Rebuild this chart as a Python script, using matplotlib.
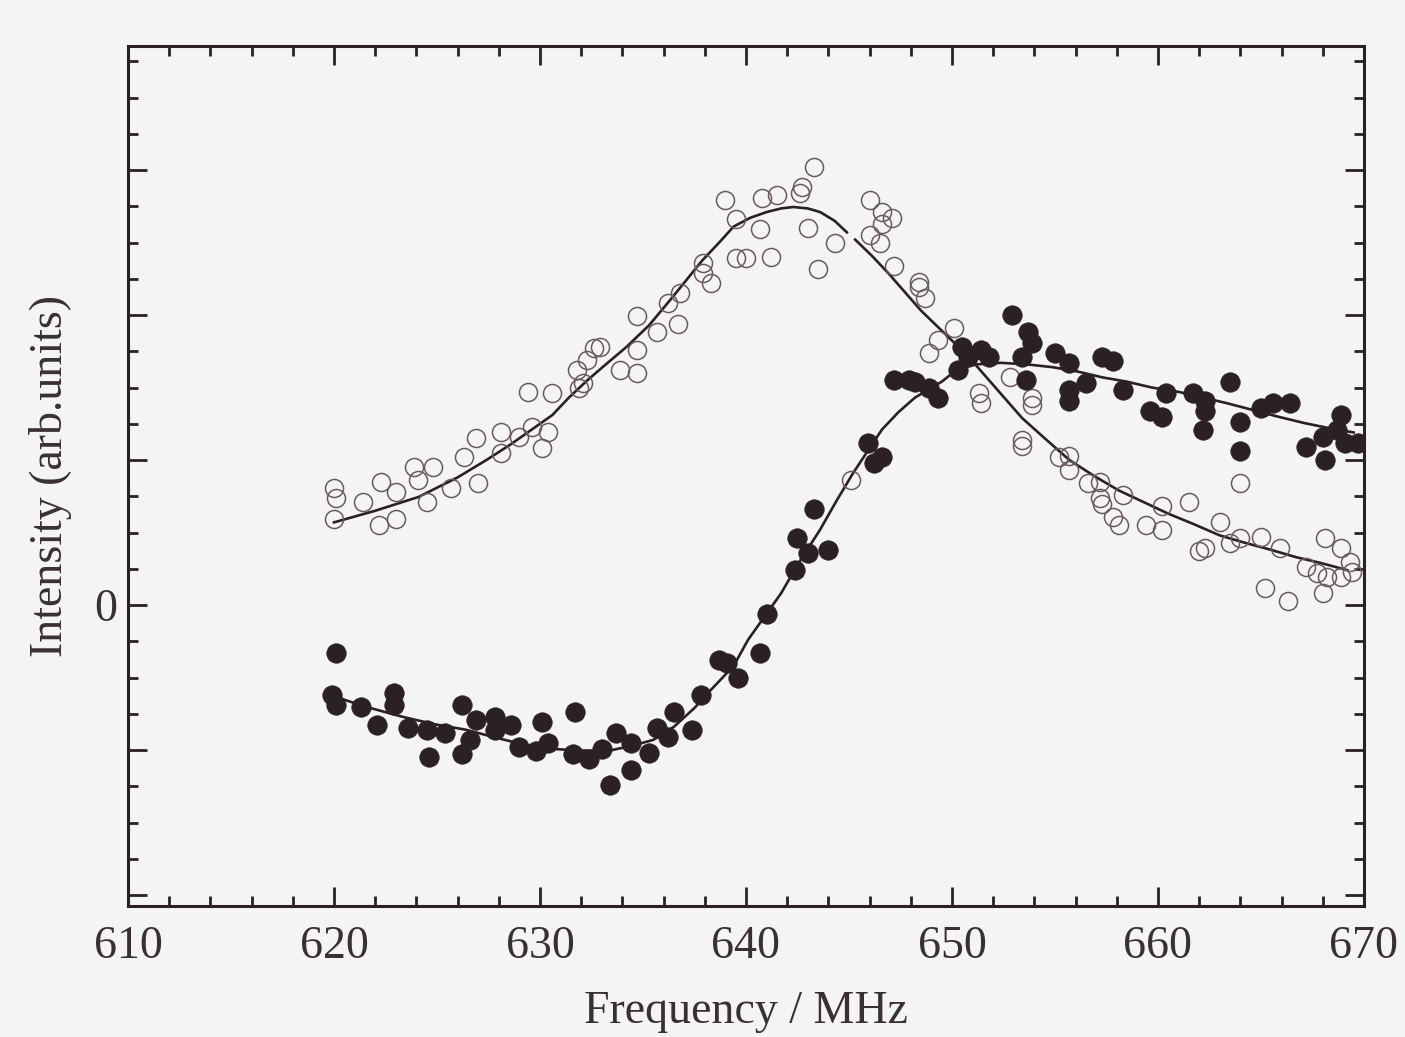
import numpy as np
import matplotlib.pyplot as plt
from matplotlib.ticker import MultipleLocator, FixedLocator

# measured points, open circles
open_freq = [620.0, 620.1, 620.0, 621.4, 622.3, 622.2, 623.0, 623.0, 623.9, 624.1,
             624.5, 624.8, 625.7, 626.3, 626.9, 627.0, 628.1, 628.1, 629.0, 629.4,
             629.6, 630.1, 630.4, 630.6, 631.8, 631.9, 632.1, 632.3, 632.6, 632.9,
             633.9, 634.7, 634.7, 634.7, 635.7, 636.2, 636.7, 636.8, 637.9, 637.9,
             638.3, 639.0, 639.5, 639.5, 640.0, 640.7, 640.8, 641.2, 641.5, 642.6,
             642.7, 643.0, 643.3, 643.5, 644.3, 645.1, 646.0, 646.0, 646.5, 646.6,
             646.6, 647.1, 647.2, 648.4, 648.4, 648.7, 648.9, 649.3, 650.1, 651.3,
             651.4, 652.8, 653.4, 653.4, 653.9, 653.9, 655.2, 655.7, 655.7, 656.6,
             657.2, 657.2, 657.3, 657.8, 658.1, 658.3, 659.4, 660.2, 660.2, 661.5,
             662.0, 662.3, 663.0, 663.5, 664.0, 664.0, 665.0, 665.2, 665.9, 666.3,
             667.2, 667.7, 668.0, 668.1, 668.2, 668.9, 668.9, 669.3, 669.4]
open_int = [0.81, 0.74, 0.59, 0.71, 0.85, 0.55, 0.78, 0.59, 0.95, 0.86,
            0.71, 0.95, 0.81, 1.02, 1.15, 0.84, 1.19, 1.05, 1.16, 1.47,
            1.23, 1.08, 1.19, 1.46, 1.62, 1.50, 1.53, 1.69, 1.77, 1.78,
            1.62, 1.60, 1.76, 1.99, 1.88, 2.08, 1.94, 2.15, 2.29, 2.36,
            2.22, 2.79, 2.66, 2.39, 2.39, 2.59, 2.81, 2.40, 2.83, 2.84,
            2.88, 2.60, 3.02, 2.32, 2.50, 0.86, 2.79, 2.55, 2.50, 2.71,
            2.63, 2.67, 2.34, 2.23, 2.19, 2.12, 1.74, 1.83, 1.91, 1.46,
            1.39, 1.57, 1.14, 1.10, 1.43, 1.38, 1.02, 1.03, 0.93, 0.84,
            0.85, 0.74, 0.70, 0.61, 0.55, 0.76, 0.55, 0.52, 0.68, 0.71,
            0.37, 0.39, 0.57, 0.43, 0.46, 0.84, 0.47, 0.12, 0.39, 0.03,
            0.26, 0.22, 0.08, 0.46, 0.19, 0.39, 0.19, 0.30, 0.23]

# measured points, filled circles
filled_freq = [619.9, 620.1, 620.1, 621.3, 622.1, 622.9, 622.9, 623.6, 624.5, 624.6,
               625.4, 626.2, 626.2, 626.6, 626.9, 627.8, 627.8, 628.6, 629.0, 629.8,
               630.1, 630.4, 631.6, 631.7, 632.4, 633.0, 633.4, 633.7, 634.4, 634.4,
               635.3, 635.7, 636.2, 636.5, 637.4, 637.8, 638.7, 639.1, 639.6, 640.7,
               641.0, 642.4, 642.5, 643.0, 643.3, 644.0, 645.9, 646.2, 646.6, 647.2,
               647.9, 648.2, 648.9, 649.3, 650.3, 650.5, 650.8, 651.4, 651.8, 652.9,
               653.4, 653.6, 653.7, 653.9, 655.0, 655.7, 655.7, 655.7, 656.5, 657.3,
               657.8, 658.3, 659.6, 660.2, 660.4, 661.7, 662.2, 662.3, 662.3, 663.5,
               664.0, 664.0, 665.0, 665.6, 666.4, 667.2, 668.0, 668.1, 668.7, 668.9,
               669.1, 669.7]
filled_int = [-0.62, -0.33, -0.69, -0.70, -0.83, -0.61, -0.69, -0.85, -0.86, -1.05,
              -0.88, -1.03, -0.69, -0.93, -0.79, -0.77, -0.86, -0.83, -0.98, -1.01,
              -0.81, -0.95, -1.03, -0.74, -1.06, -0.99, -1.24, -0.88, -0.95, -1.14,
              -1.02, -0.85, -0.91, -0.74, -0.86, -0.62, -0.38, -0.40, -0.50, -0.33,
              -0.06, 0.24, 0.46, 0.36, 0.66, 0.38, 1.12, 0.98, 1.02, 1.55,
              1.55, 1.54, 1.50, 1.43, 1.62, 1.78, 1.71, 1.76, 1.71, 2.00,
              1.71, 1.55, 1.88, 1.81, 1.74, 1.67, 1.48, 1.41, 1.53, 1.71,
              1.68, 1.48, 1.34, 1.30, 1.46, 1.46, 1.21, 1.41, 1.34, 1.54,
              1.26, 1.06, 1.36, 1.39, 1.39, 1.09, 1.16, 1.00, 1.21, 1.31,
              1.12, 1.12]

# fitted curves (the open-circle fit has a short break near 645 MHz)
fit_open_freq = [620.0, 622.0, 624.1, 626.0, 627.4, 628.6, 629.6, 630.6, 631.4, 632.3,
                 633.2, 634.2, 635.3, 636.3, 637.1, 637.9, 638.7, 639.4, 640.2, 641.0,
                 641.7, 642.3, 643.0, 643.6, 644.3, 644.9, np.nan, 645.3, 646.1, 646.9,
                 647.7, 648.5, 649.3, 650.1, 651.0, 651.8, 652.6, 653.4, 654.5, 655.7,
                 656.9, 658.1, 659.3, 660.5, 661.7, 663.0, 664.2, 665.5, 666.7, 667.9,
                 669.2]
fit_open_int = [0.57, 0.65, 0.745, 0.88, 1.00, 1.11, 1.21, 1.31, 1.43, 1.55,
                1.66, 1.78, 1.93, 2.10, 2.24, 2.38, 2.50, 2.61, 2.67, 2.71,
                2.735, 2.745, 2.735, 2.71, 2.65, 2.57, np.nan, 2.52, 2.41, 2.29,
                2.16, 2.03, 1.92, 1.81, 1.68, 1.55, 1.42, 1.29, 1.15, 1.00,
                0.89, 0.79, 0.71, 0.63, 0.56, 0.48, 0.43, 0.38, 0.33, 0.29,
                0.24]
fit_filled_freq = [620.0, 621.5, 623.3, 624.8, 626.4, 628.0, 629.6, 630.5, 631.4, 632.5,
                   633.5, 634.5, 635.5, 636.5, 637.5, 638.2, 638.8, 639.4, 640.1, 640.9,
                   641.7, 642.6, 643.6, 644.4, 645.2, 645.9, 646.6, 647.4, 648.2, 648.9,
                   649.5, 650.3, 651.2, 652.4, 653.6, 654.9, 656.1, 657.3, 658.5, 659.7,
                   661.0, 662.2, 663.4, 664.6, 665.8, 667.1, 668.3, 669.5]
fit_filled_int = [-0.63, -0.70, -0.77, -0.82, -0.86, -0.92, -0.975, -0.99, -1.00, -1.005,
                  -1.00, -0.97, -0.93, -0.84, -0.71, -0.60, -0.51, -0.42, -0.24, -0.08,
                  0.08, 0.30, 0.52, 0.72, 0.91, 1.06, 1.21, 1.33, 1.43, 1.49,
                  1.54, 1.63, 1.66, 1.67, 1.66, 1.64, 1.61, 1.57, 1.54, 1.50,
                  1.47, 1.43, 1.39, 1.345, 1.30, 1.255, 1.22, 1.19]

ink = '#2b2024'
text_ink = '#3a3034'
paper = '#f4f4f6'

plt.rcParams['font.family'] = ['Liberation Serif', 'DejaVu Serif']

fig = plt.figure(figsize=(14.05, 10.37), dpi=100, facecolor=paper)
ax = fig.add_axes([0.0911, 0.1263, 0.8797, 0.8293], facecolor=paper)

ax.plot(fit_open_freq, fit_open_int, color=ink, linewidth=1.9, zorder=2)
ax.plot(fit_filled_freq, fit_filled_int, color=ink, linewidth=1.9, zorder=2)

ax.plot(open_freq, open_int, linestyle='none', marker='o', markersize=13,
        markerfacecolor='none', markeredgecolor='#6a5a5e', markeredgewidth=1.1, zorder=3)
ax.plot(filled_freq, filled_int, linestyle='none', marker='o', markersize=14,
        markerfacecolor=ink, markeredgecolor=ink, markeredgewidth=0.5, zorder=4)

ax.set_xlim(610, 670)
ax.set_ylim(-2.076, 3.855)

ax.xaxis.set_major_locator(MultipleLocator(10))
ax.xaxis.set_minor_locator(MultipleLocator(2))
ax.yaxis.set_major_locator(FixedLocator([-2, -1, 0, 1, 2, 3]))
ax.yaxis.set_minor_locator(MultipleLocator(0.25))
ax.set_yticklabels(['', '', '0', '', '', ''])

ax.tick_params(which='both', direction='in', top=True, right=True, color=ink,
               width=2.0, labelsize=33, labelcolor=text_ink)
ax.tick_params(which='major', length=14)
ax.tick_params(which='minor', length=7)
ax.tick_params(axis='x', which='major', pad=14)
ax.tick_params(axis='y', which='major', pad=8)

for side in ax.spines.values():
    side.set_linewidth(2.2)
    side.set_color(ink)

ax.set_xlabel('Frequency / MHz', fontsize=33, color=text_ink, labelpad=16)
ax.set_ylabel('Intensity (arb.units)', fontsize=33, color=text_ink, labelpad=16)

fig.savefig('out.png', dpi=100, facecolor=paper)
